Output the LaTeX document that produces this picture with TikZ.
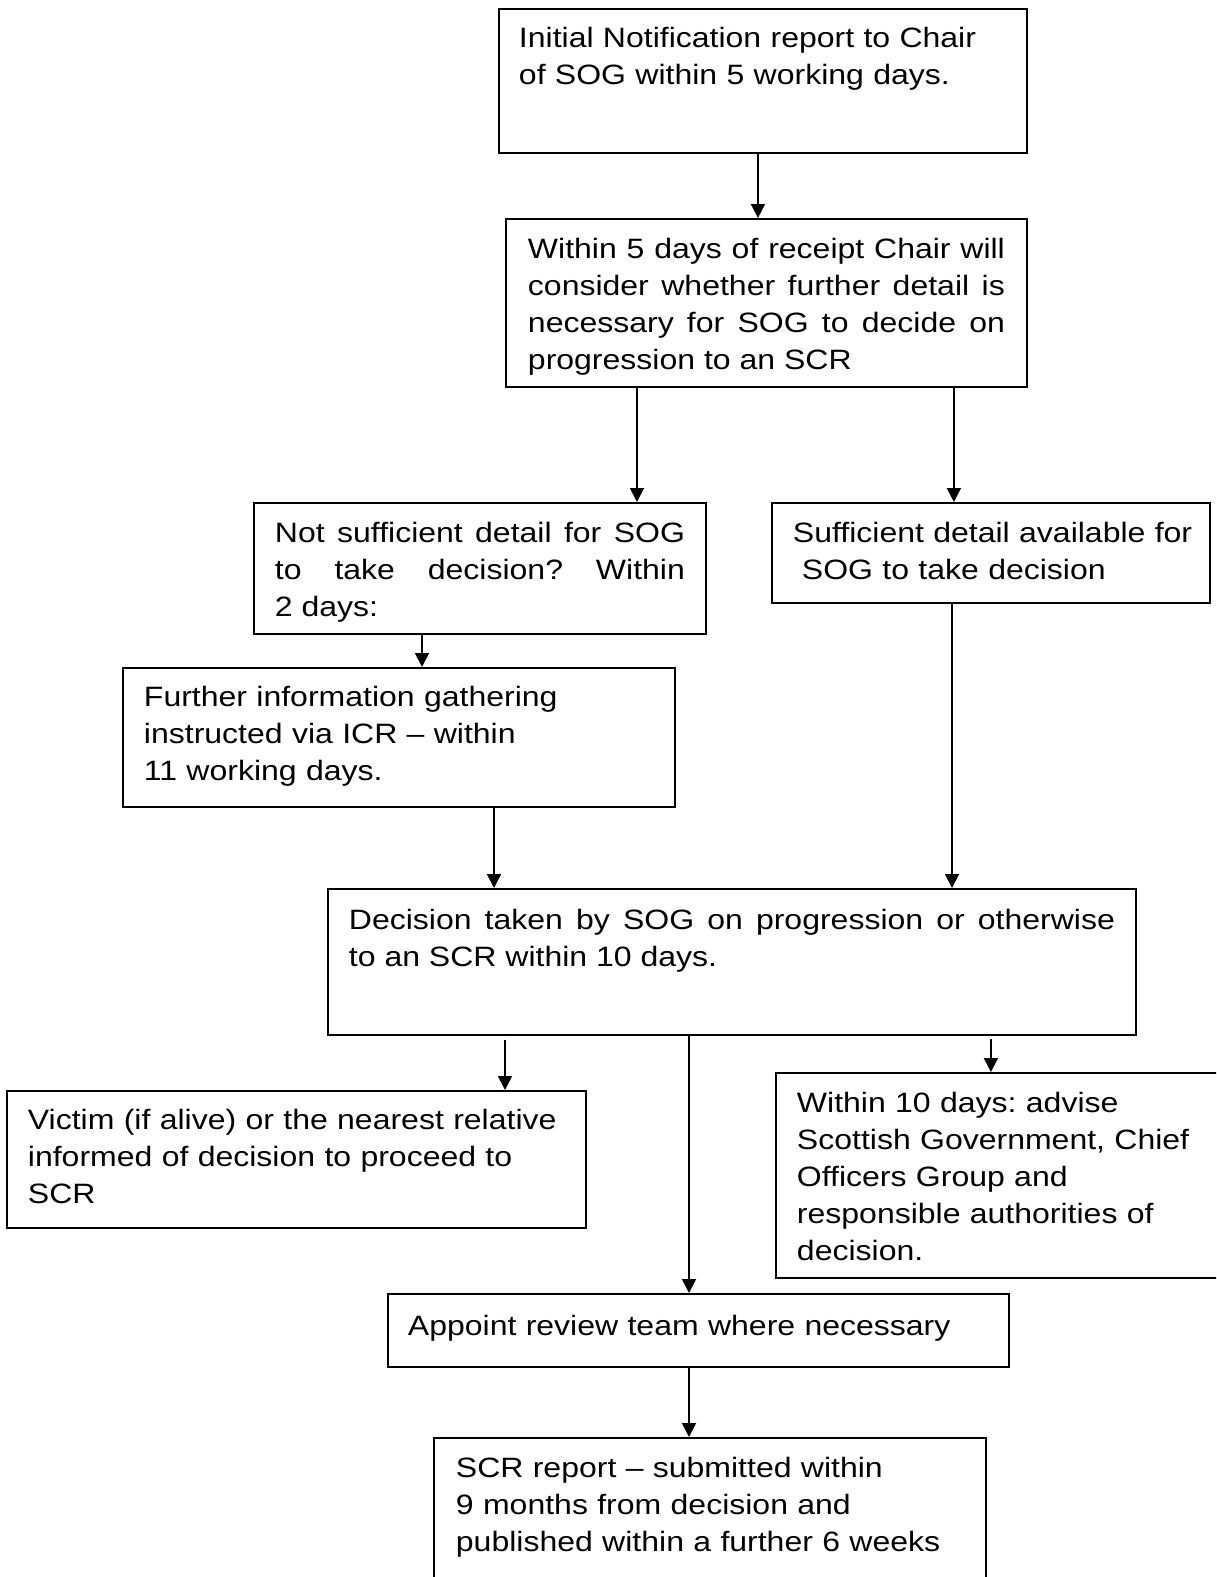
\documentclass[tikz,border=0pt]{standalone}
\usepackage{fontspec}
\setmainfont{Liberation Sans}[FakeStretch=1.143]
\usepackage{tikz}
\usetikzlibrary{positioning,arrows.meta}
\frenchspacing
\tikzset{
  box/.style ={draw=black, line width=1.9pt, fill=white, anchor=north west,
               inner ysep=0pt, inner xsep=21pt, align=left,
               font=\fontsize{28}{37}\selectfont\frenchspacing},
  boxj/.style={box, align=justify},
  ar/.style  ={-{Triangle[length=14pt,width=14pt]}, draw=black, line width=1.8pt}
}

\begin{document}
\begin{tikzpicture}[x=1pt,y=-1pt]
\useasboundingbox (0,0) rectangle (1216,1577);
\clip (0,0) rectangle (1216,1577);

% steps of the review, top to bottom
\node[box, inner xsep=20pt, text width=488pt, text height=39pt, text depth=105pt] (notify) at (498,8)
  {Initial Notification report to Chair\\of SOG within 5 working days.};
\node[boxj, inner xsep=22pt, text width=477pt, text height=40pt, text depth=128pt] (consider) at (505,218)
  {Within 5 days of receipt Chair will\linebreak consider whether further detail is\linebreak
   necessary for SOG to decide on\linebreak progression to an SCR};
\node[boxj, text width=410pt, text height=40pt, text depth=91pt] (notsuff) at (253,502)
  {Not sufficient detail for SOG\linebreak to take decision? Within\linebreak 2 days:};
\node[box, inner xsep=12pt, text width=414pt, text height=40pt, text depth=60pt] (suff) at (771,502)
  {\hspace*{9pt}Sufficient detail available for\\\hspace*{18pt}SOG to take decision};
\node[box, text width=510pt, text height=39pt, text depth=100pt] (further) at (122,667)
  {Further information gathering\\instructed via ICR -- within\\11 working days.};
\node[boxj, text width=766pt, text height=41pt, text depth=105pt] (decision) at (327,888)
  {Decision taken by SOG on progression or otherwise\linebreak to an SCR within 10 days.};
\node[box, text width=537pt, text height=39pt, text depth=98pt] (victim) at (6,1090)
  {Victim (if alive) or the nearest relative\\informed of decision to proceed to\\SCR};
\node[box, text width=433pt, text height=40pt, text depth=165pt] (advise) at (775,1072)
  {Within 10 days: advise\\Scottish Government, Chief\\Officers Group and\\
   responsible authorities of\\decision.};
\node[box, inner xsep=20pt, text width=581pt, text height=42pt, text depth=31pt] (appoint) at (387,1293)
  {Appoint review team where necessary};
\node[box, inner xsep=22pt, text width=508pt, text height=40pt, text depth=153pt] (report) at (433,1437)
  {SCR report -- submitted within\\9 months from decision and\\published within a further 6 weeks};

% connectors
\draw[ar] ([xshift=-5pt]notify.south) -- ([xshift=-5pt]notify.south |- consider.north);
\draw[ar] ([xshift=132pt]consider.south west) -- ([xshift=132pt]consider.south west |- notsuff.north);
\draw[ar] ([xshift=-74pt]consider.south east) -- ([xshift=-74pt]consider.south east |- suff.north);
\draw[ar] ([xshift=169pt]notsuff.south west) -- ([xshift=169pt]notsuff.south west |- further.north);
\draw[ar] ([xshift=372pt]further.south west) -- ([xshift=372pt]further.south west |- decision.north);
\draw[ar] ([xshift=181pt]suff.south west) -- ([xshift=181pt]suff.south west |- decision.north);
\draw[ar] ([xshift=178pt,yshift=-4pt]decision.south west) -- ([xshift=178pt]decision.south west |- victim.north);
\draw[ar] ([xshift=362pt]decision.south west) -- ([xshift=362pt]decision.south west |- appoint.north);
\draw[ar] ([xshift=-146pt,yshift=-3pt]decision.south east) -- ([xshift=-146pt]decision.south east |- advise.north);
\draw[ar] ([xshift=302pt]appoint.south west) -- ([xshift=302pt]appoint.south west |- report.north);
\end{tikzpicture}
\end{document}
